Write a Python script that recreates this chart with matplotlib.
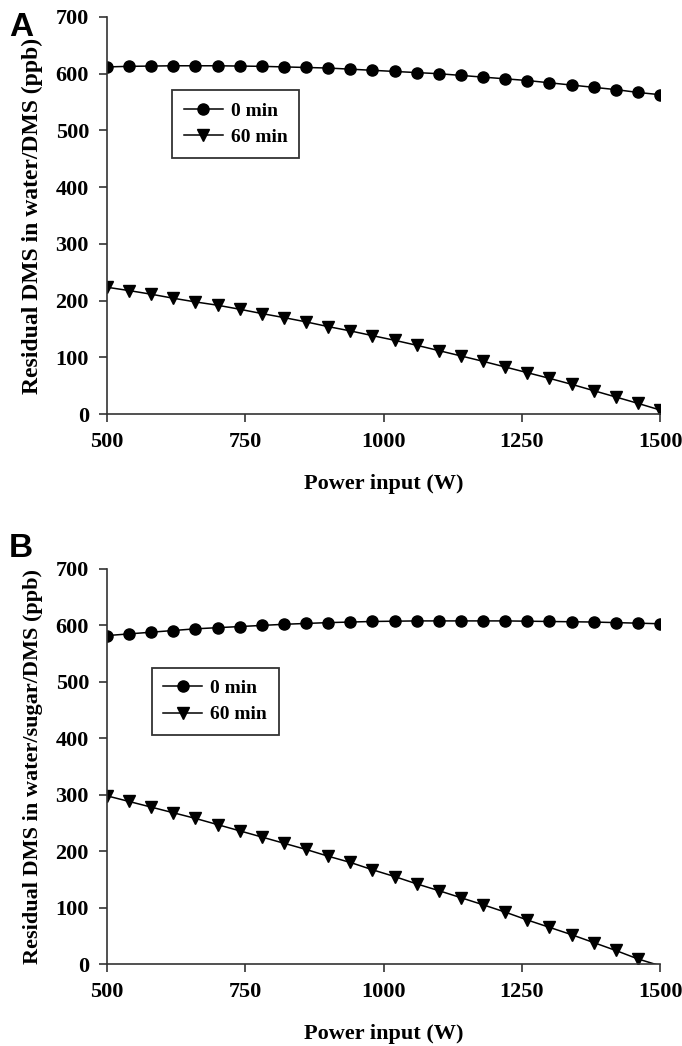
import matplotlib.pyplot as plt

# puissance (W), un point tous les 40 W
power = list(range(500, 1501, 40))

# A : eau / DMS
a_0min = [612, 613, 613.5, 614, 614, 614, 613.5, 613, 612, 611, 610, 608, 606,
          604, 602, 600, 597, 594, 591, 588, 584, 580, 576, 572, 567, 563]
a_60min = [223.5, 217.6, 211.2, 204.1, 197.6, 191.8, 184.7, 177.1, 170, 162.4,
           154.1, 146.5, 138.2, 130, 121.2, 111.8, 102.4, 92.9, 82.9, 72.9,
           62.9, 52.4, 41.2, 30, 18.8, 7.1]

# B : eau / sucre / DMS
b_0min = [582, 585, 588, 591, 594, 596, 598, 600, 602, 603.5, 605, 606, 607,
          607.5, 608, 608, 608, 608, 608, 607.5, 607, 606.5, 606, 605, 604, 603]
b_60min = [298, 288, 278, 268, 258, 247, 236, 225, 214, 203, 191, 180, 167,
           155, 142, 130, 117.5, 105, 92, 78, 65, 52, 38, 24, 9, -3]

series_labels = ["0 min", "60 min"]
xticks = [500, 750, 1000, 1250, 1500]
yticks = [0, 100, 200, 300, 400, 500, 600, 700]

plt.rcParams['font.family'] = ['Liberation Serif', 'DejaVu Serif']
plt.rcParams['font.weight'] = 'bold'

W, H = 682, 1046
fig = plt.figure(figsize=(W/100, H/100), dpi=100)

def panel(rect, y0, y60, ylabel, ylab_size, leg_pos):
    ax = fig.add_axes(rect)
    ax.plot(power, y0, color='black', lw=1.1, marker='o', ms=8, label=series_labels[0])
    ax.plot(power, y60, color='black', lw=1.1, marker='v', ms=8,
            markevery=[i for i in range(len(power)) if y60[i] >= 0], label=series_labels[1])
    ax.set_xlim(500, 1500)
    ax.set_ylim(0, 700)
    ax.set_xticks(xticks)
    ax.set_yticks(yticks)
    for s in ['top', 'right']:
        ax.spines[s].set_visible(False)
    for s in ['left', 'bottom']:
        ax.spines[s].set_linewidth(1.2)
        ax.spines[s].set_color('#333333')
    ax.tick_params(direction='out', length=6, width=1.2, labelsize=16, pad=7, color='#333333')
    for lab in ax.get_xticklabels() + ax.get_yticklabels():
        lab.set_fontweight('bold')
    ax.set_xlabel("Power input (W)", fontsize=16, fontweight='bold', labelpad=16)
    ax.set_ylabel(ylabel, fontsize=ylab_size, fontweight='bold', labelpad=9)
    leg = ax.legend(loc='upper left', bbox_to_anchor=leg_pos, frameon=True, fancybox=False,
                    edgecolor='black', handlelength=2.0, borderpad=0.6, borderaxespad=0,
                    labelspacing=0.45, handletextpad=0.4, prop={'weight': 'bold', 'size': 14})
    leg.get_frame().set_linewidth(1.3)
    return ax

# A
axA = panel([107/W, 1 - 414/H, 553/W, 397/H], a_0min, a_60min,
            "Residual DMS in water/DMS (ppb)", 17, (0.118, 0.815))
fig.text(9/W, 1 - 12/H, "A", fontsize=24, fontweight='bold', family='Liberation Sans', va='top')

# B
axB = panel([107/W, 1 - 964/H, 553/W, 395/H], b_0min, b_60min,
            "Residual DMS in water/sugar/DMS (ppb)", 16, (0.081, 0.75))
fig.text(9/W, 1 - 533/H, "B", fontsize=24, fontweight='bold', family='Liberation Sans', va='top')

fig.savefig("out.png", dpi=100)
